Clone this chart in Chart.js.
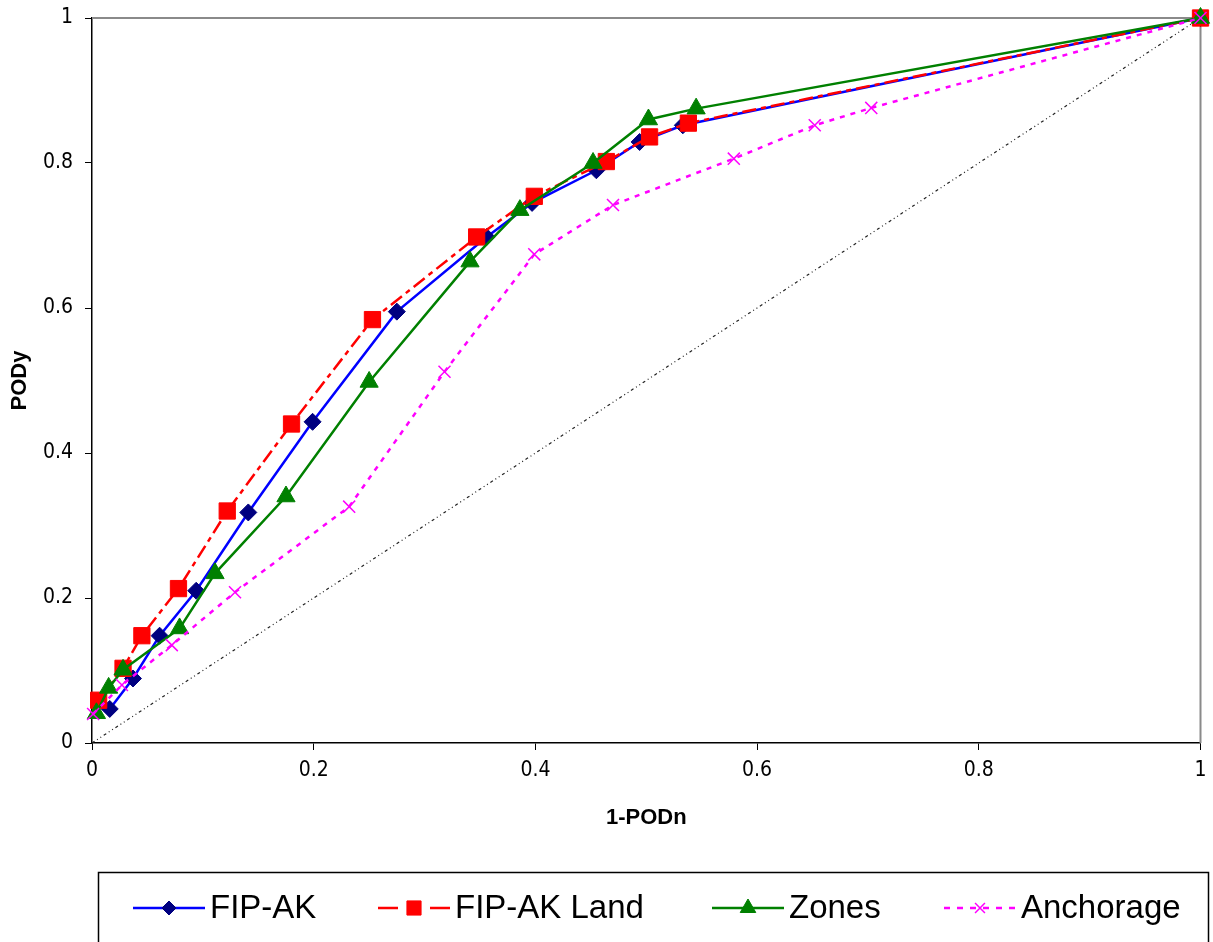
<!DOCTYPE html>
<html>
<head>
<meta charset="utf-8">
<script src="https://cdn.jsdelivr.net/npm/chart.js@4/dist/chart.umd.min.js"></script>
<style>
  html, body { margin: 0; padding: 0; background: #fff; }
  #wrap { width: 1213px; height: 942px; }
</style>
</head>
<body>
<div id="wrap"><canvas id="roc" width="1213" height="942"></canvas></div>
<script>
// ROC points: 1-PODn on x, PODy on y
let fipX = [0.016, 0.037, 0.061, 0.094, 0.141, 0.199, 0.275, 0.356, 0.397, 0.455, 0.494, 0.533, 1];
let fipY = [0.047, 0.089, 0.148, 0.210, 0.318, 0.443, 0.595, 0.698, 0.745, 0.790, 0.829, 0.852, 1];

let landX = [0.006, 0.028, 0.045, 0.078, 0.122, 0.180, 0.253, 0.347, 0.399, 0.464, 0.503, 0.538, 1];
let landY = [0.059, 0.103, 0.148, 0.213, 0.320, 0.440, 0.584, 0.698, 0.754, 0.802, 0.836, 0.855, 1];

let zonesX = [0.004, 0.015, 0.028, 0.079, 0.111, 0.175, 0.250, 0.341, 0.386, 0.452, 0.502, 0.545, 1];
let zonesY = [0.041, 0.076, 0.101, 0.158, 0.234, 0.340, 0.498, 0.664, 0.735, 0.800, 0.860, 0.875, 1];

let anchX = [0.001, 0.027, 0.072, 0.129, 0.232, 0.318, 0.399, 0.470, 0.579, 0.652, 0.703, 1];
let anchY = [0.040, 0.080, 0.135, 0.208, 0.326, 0.512, 0.674, 0.742, 0.806, 0.852, 0.876, 1];

// no-skill diagonal
let diagX = [0, 1];
let diagY = [0, 1];

let seriesNames = ['FIP-AK', 'FIP-AK Land', 'Zones', 'Anchorage'];
let axisTicks = [0, 0.2, 0.4, 0.6, 0.8, 1];

function pts(xs, ys){
    return xs.map(function(x, i){ return {x: x, y: ys[i]}; });
}

let styles = [
    {line: '#0000ff', fill: '#000080', dash: [], legDash: [], shape: 'rectRot', r: 8.5, lr: 7, bw: 1},
    {line: '#ff0000', fill: '#ff0000', dash: [14, 5, 5, 5], legDash: [20, 32], shape: 'rect', r: 11.5, lr: 10, bw: 1},
    {line: '#008000', fill: '#008000', dash: [], legDash: [], shape: 'triangle', r: 10.5, lr: 9, bw: 1},
    {line: '#ff00ff', fill: '#ff00ff', dash: [5, 6], legDash: [6, 7], shape: 'crossRot', r: 8.5, lr: 7, bw: 1.5}
];

let seriesData = [pts(fipX, fipY), pts(landX, landY), pts(zonesX, zonesY), pts(anchX, anchY)];

let datasets = seriesData.map(function(d, i){
    let s = styles[i];
    return {
        label: seriesNames[i],
        data: d,
        showLine: true,
        borderColor: s.line,
        borderWidth: 2.5,
        borderDash: s.dash,
        pointStyle: s.shape,
        pointRadius: s.r,
        pointHoverRadius: s.r,
        pointBackgroundColor: s.fill,
        pointBorderColor: s.fill,
        pointBorderWidth: s.bw,
        order: 4 - i,
        clip: false
    };
});

datasets.push({
    label: 'diag',
    data: pts(diagX, diagY),
    showLine: true,
    borderColor: '#222',
    borderWidth: 1.2,
    borderDash: [3, 3, 1, 3, 1, 3],
    pointRadius: 0,
    order: 10
});

// grey frame on top and right of plot
const frame = {
    id: 'frame',
    beforeDatasetsDraw(chart){
        let a = chart.chartArea, ctx = chart.ctx;
        ctx.save();
        ctx.strokeStyle = '#8a8a8a';
        ctx.lineWidth = 2;
        ctx.beginPath();
        ctx.moveTo(a.left, a.top);
        ctx.lineTo(a.right, a.top);
        ctx.lineTo(a.right, a.bottom);
        ctx.stroke();
        ctx.restore();
    }
};

// boxed legend with line + marker samples
const boxLegend = {
    id: 'boxLegend',
    afterDraw(chart){
        let ctx = chart.ctx;
        ctx.save();
        ctx.strokeStyle = '#000';
        ctx.lineWidth = 1.5;
        ctx.strokeRect(98.5, 872.5, 1110, 100);

        let starts = [133, 378, 712, 944];
        let cy = 908;
        seriesNames.forEach(function(name, i){
            let s = styles[i];
            let x0 = starts[i];
            ctx.strokeStyle = s.line;
            ctx.lineWidth = 2.5;
            ctx.setLineDash(s.legDash);
            ctx.beginPath();
            ctx.moveTo(x0, cy);
            ctx.lineTo(x0 + 72, cy);
            ctx.stroke();
            ctx.setLineDash([]);
            ctx.fillStyle = s.fill;
            ctx.strokeStyle = s.fill;
            ctx.lineWidth = s.bw;
            Chart.helpers.drawPoint(ctx, {pointStyle: s.shape, radius: s.lr, rotation: 0, borderWidth: s.bw}, x0 + 36, cy);
            ctx.fillStyle = '#000';
            ctx.font = '33px "Liberation Sans", Arial, sans-serif';
            ctx.textBaseline = 'middle';
            ctx.fillText(name, x0 + 77, cy + 1);
        });
        ctx.restore();
    }
};

let tickFont = {family: '"DejaVu Sans Condensed", "Liberation Sans Narrow", "Arial Narrow", "Liberation Sans", sans-serif', size: 21};
let titleFont = {family: '"Liberation Sans", Arial, sans-serif', size: 22, weight: 'bold'};

new Chart(document.getElementById('roc'), {
    type: 'scatter',
    data: {datasets: datasets},
    options: {
        responsive: false,
        animation: false,
        layout: {padding: {left: 0, top: 18, right: 11, bottom: 99}},
        plugins: {legend: {display: false}, tooltip: {enabled: false}},
        scales: {
            x: {
                type: 'linear',
                min: 0, max: 1,
                afterFit: function(s){ s.height = 100; s.paddingLeft = 0; s.paddingRight = 0; },
                afterBuildTicks: function(s){ s.ticks = axisTicks.map(function(v){ return {value: v}; }); },
                ticks: {
                    color: '#000', font: tickFont, padding: 8, maxRotation: 0,
                    callback: function(v){ return String(Math.round(v * 10) / 10); }
                },
                grid: {display: true, drawOnChartArea: false, drawTicks: true, tickLength: 7, color: '#000'},
                border: {display: true, color: '#000', width: 1.5},
                title: {display: true, text: '1-PODn', color: '#000', font: titleFont, padding: {top: 0, bottom: 12}}
            },
            y: {
                type: 'linear',
                min: 0, max: 1,
                afterFit: function(s){ s.width = 92; s.paddingTop = 0; s.paddingBottom = 0; },
                afterBuildTicks: function(s){ s.ticks = axisTicks.map(function(v){ return {value: v}; }); },
                ticks: {
                    color: '#000', font: tickFont, padding: 12,
                    callback: function(v){ return String(Math.round(v * 10) / 10); }
                },
                grid: {display: true, drawOnChartArea: false, drawTicks: true, tickLength: 7, color: '#000'},
                border: {display: true, color: '#000', width: 1.5},
                title: {display: true, text: 'PODy', color: '#000', font: titleFont, padding: {top: 7, bottom: 0}}
            }
        }
    },
    plugins: [frame, boxLegend]
});
</script>
</body>
</html>
